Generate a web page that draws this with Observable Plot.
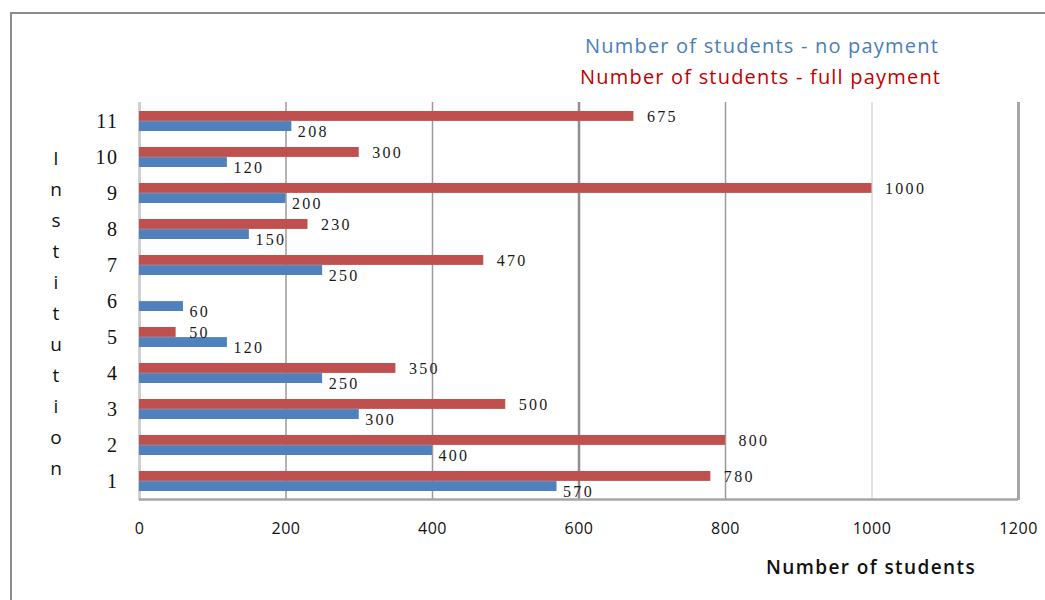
<!DOCTYPE html>
<html>
<head>
<meta charset="utf-8">
<script src="https://cdn.jsdelivr.net/npm/d3@7"></script>
<script src="https://cdn.jsdelivr.net/npm/@observablehq/plot@0.6"></script>
<style>
  html, body { margin: 0; padding: 0; background: #fff; }
  #wrap { position: relative; width: 1045px; height: 600px; overflow: hidden; }
  #frame { position: absolute; left: 10px; top: 12px; width: 1200px; height: 800px; border: 2px solid #8c8c8c; box-sizing: border-box; }
  #chart { position: absolute; left: 0; top: 0; }
  .legend { position: absolute; font-family: "Open Sans", sans-serif; font-size: 20px; white-space: nowrap; letter-spacing: 1.2px; }
  #ytitle { position: absolute; left: 44px; top: 143px; width: 24px; text-align: center; font-family: "Open Sans", sans-serif; font-size: 19px; line-height: 31px; color: #111; }
  #xtitle { position: absolute; left: 766px; top: 554px; font-family: "Open Sans", sans-serif; font-size: 19px; font-weight: 600; letter-spacing: 1.4px; color: #111; white-space: nowrap; }
</style>
</head>
<body>
<div id="wrap">
  <div id="frame"></div>
  <div id="chart"></div>
  <div class="legend" id="leg1" style="left:585px; top:32px; color:#4a7ebb;"></div>
  <div class="legend" id="leg2" style="left:580px; top:63px; color:#c00000;"></div>
  <div id="ytitle"></div>
  <div id="xtitle"></div>
</div>
<script>
const institutions = ["1", "2", "3", "4", "5", "6", "7", "8", "9", "10", "11"];
const noPayment = [570, 400, 300, 250, 120, 60, 250, 150, 200, 120, 208];
const fullPayment = [780, 800, 500, 350, 50, null, 470, 230, 1000, 300, 675];
const seriesNames = ["Number of students - no payment", "Number of students - full payment"];
const xTicks = [0, 200, 400, 600, 800, 1000, 1200];
const xTitle = "Number of students";
const yTitle = "Institution";

const fullData = institutions.map((d, i) => ({inst: d, value: fullPayment[i]})).filter(d => d.value != null);
const noData = institutions.map((d, i) => ({inst: d, value: noPayment[i]}));

const gridStyle = {200: ["#9a9a9a", 1.5], 400: ["#9a9a9a", 1.5], 600: ["#8f8f8f", 2.5], 800: ["#9a9a9a", 1.5], 1000: ["#d9d9d9", 1.5]};
const grid = xTicks.filter(v => gridStyle[v]);

const chart = Plot.plot({
  width: 1045,
  height: 600,
  marginLeft: 139,
  marginRight: 27,
  marginTop: 102,
  marginBottom: 100,
  style: {background: "transparent", fontFamily: "Liberation Serif, serif"},
  x: {domain: [0, 1200], ticks: xTicks, tickSize: 0, tickPadding: 22, label: null, tickFormat: d => String(d)},
  y: {domain: institutions.slice().reverse(), padding: 0, tickSize: 0, tickPadding: 21, label: null},
  marks: [
    Plot.ruleX(grid, {x: d => d, stroke: d => gridStyle[d][0], strokeWidth: d => gridStyle[d][1]}),
    Plot.ruleX([0], {stroke: "#d0d0d0", strokeWidth: 3}),
    Plot.ruleX([1200], {stroke: "#a6a6a6", strokeWidth: 3}),
    Plot.ruleY(["1"], {x1: 0, x2: 1200, dy: 18.1, stroke: "#a6a6a6", strokeWidth: 2.5}),
    Plot.barX(fullData, {y: "inst", x: "value", fill: "#c0504d", insetTop: 8, insetBottom: 18.1}),
    Plot.barX(noData, {y: "inst", x: "value", fill: "#4f81bd", insetTop: 18.1, insetBottom: 8}),
    Plot.text(fullData, {y: "inst", x: "value", text: d => String(d.value), textAnchor: "start", dx: 13, dy: -5, fontSize: 16, fill: "#1a1a1a", fontFamily: "Liberation Serif, serif"}),
    Plot.text(noData, {y: "inst", x: "value", text: d => String(d.value), textAnchor: "start", dx: 6, dy: 10, fontSize: 16, fill: "#1a1a1a", fontFamily: "Liberation Serif, serif"})
  ]
});

d3.select(chart).selectAll('[aria-label="text"] text').style("letter-spacing", "2.3px");
d3.select(chart).selectAll('[aria-label^="x-axis"] text').style("font-family", "Open Sans, sans-serif").style("font-size", "16px").style("letter-spacing", "0.5px").attr("fill", "#111");
d3.select(chart).selectAll('[aria-label^="y-axis"] text').style("font-family", "Liberation Serif, serif").style("font-size", "20px").style("letter-spacing", "1.5px").attr("fill", "#111");

document.getElementById("chart").appendChild(chart);
document.getElementById("leg1").textContent = seriesNames[0];
document.getElementById("leg2").textContent = seriesNames[1];
document.getElementById("xtitle").textContent = xTitle;
document.getElementById("ytitle").innerHTML = yTitle.split("").map(c => `<div>${c}</div>`).join("");
</script>
</body>
</html>
